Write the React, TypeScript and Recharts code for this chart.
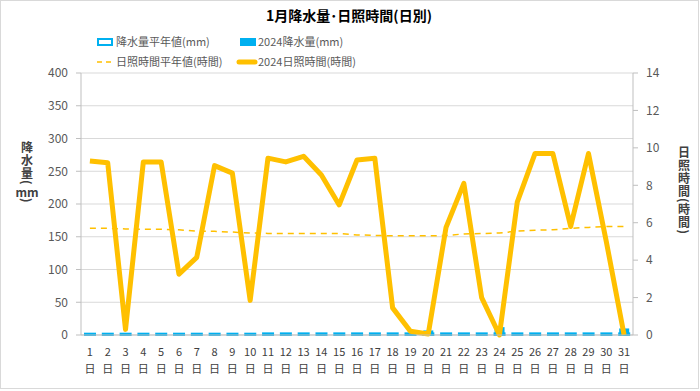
import React from 'react';
import { ComposedChart, Bar, Line, XAxis, YAxis, CartesianGrid } from 'recharts';

const days = ['1','2','3','4','5','6','7','8','9','10','11','12','13','14','15','16','17','18','19','20','21','22','23','24','25','26','27','28','29','30','31'];
const precipNormal = [2,2,2,2,2,2,2,2,2,2,2.5,2.5,2.5,2.5,2.5,2.5,2.5,2.5,2.5,2.5,2.5,2.5,2.5,2.5,2.5,2.5,2.5,2.5,2.5,2.5,2.5];
const precip2024 = [0,0,0,0,0,0,0,0,0,0,0,0,0,0,0,0,0,0,0,7,3,1,0,12,2,0,0,0,0,0,10];
const sunNormal = [5.7,5.7,5.67,5.65,5.65,5.62,5.55,5.54,5.5,5.45,5.43,5.43,5.43,5.43,5.42,5.35,5.32,5.3,5.3,5.3,5.32,5.4,5.42,5.45,5.55,5.6,5.62,5.7,5.75,5.8,5.8];
const sun2024 = [9.3,9.2,0.3,9.25,9.25,3.25,4.15,9.05,8.65,1.85,9.45,9.25,9.55,8.55,6.95,9.35,9.45,1.45,0.2,0.05,5.75,8.1,2.0,0.0,7.1,9.7,9.7,5.8,9.7,5.0,0.0];
const leftTicks = [0,50,100,150,200,250,300,350,400];
const rightTicks = [0,2,4,6,8,10,12,14];

const data = days.map((d, i) => ({
  day: d,
  pn: precipNormal[i],
  p24: precip2024[i],
  sn: sunNormal[i],
  s24: sun2024[i],
}));

const FONT = '"Noto Sans CJK JP", "Noto Sans", sans-serif';
const BLUE = '#00B0F0';
const GOLD = '#FFC000';

const DayTick = (props: any) => {
  const { x, y, payload } = props;
  return (
    <g>
      <text x={x} y={y + 21} textAnchor="middle" fontSize={11} fill="#404040" fontFamily={FONT}>{payload.value}</text>
      <text x={x} y={y + 38} textAnchor="middle" fontSize={11} fill="#404040" fontFamily={FONT}>日</text>
    </g>
  );
};

const vStyle: any = { writingMode: 'vertical-rl', textOrientation: 'mixed' };

export default function App() {
  return (
    <div style={{ position: 'absolute', left: 0, top: 0, width: 700, height: 391, background: '#fff', fontFamily: FONT }}>
      <ComposedChart width={700} height={391} data={data} margin={{ top: 73, right: 0, bottom: 0, left: 0 }} barGap={0}>
        <CartesianGrid yAxisId="left" vertical={false} stroke="#d9d9d9" strokeWidth={1} />
        <XAxis dataKey="day" xAxisId="a" height={56} interval={0} tickLine={false} tickSize={0} tickMargin={0}
          axisLine={{ stroke: '#bfbfbf' }} tick={<DayTick />} />
        <XAxis dataKey="day" xAxisId="b" hide />
        <YAxis yAxisId="left" orientation="left" width={81} domain={[0, 400]} ticks={leftTicks} interval={0}
          axisLine={{ stroke: '#bfbfbf' }} tickLine={{ stroke: '#bfbfbf' }} tickSize={5} tickMargin={8}
          tick={{ fontSize: 12, fill: '#595959', fontFamily: FONT }} />
        <YAxis yAxisId="right" orientation="right" width={67} domain={[0, 14]} ticks={rightTicks} interval={0}
          axisLine={{ stroke: '#bfbfbf' }} tickLine={{ stroke: '#bfbfbf' }} tickSize={5} tickMargin={8}
          tick={{ fontSize: 12, fill: '#595959', fontFamily: FONT, textAnchor: 'start' }} />
        <Bar xAxisId="a" yAxisId="left" dataKey="pn" barSize={10} fill="#ffffff" stroke={BLUE} strokeWidth={2} isAnimationActive={false} />
        <Bar xAxisId="b" yAxisId="left" dataKey="p24" barSize={10} fill={BLUE} isAnimationActive={false} />
        <Line xAxisId="a" yAxisId="right" dataKey="sn" stroke={GOLD} strokeWidth={1.5} strokeDasharray="6 5" dot={false} isAnimationActive={false} />
        <Line xAxisId="a" yAxisId="right" dataKey="s24" stroke={GOLD} strokeWidth={5} dot={false} strokeLinejoin="round" isAnimationActive={false} />
      </ComposedChart>
      <svg width={700} height={391} style={{ position: 'absolute', left: 0, top: 0, pointerEvents: 'none' }}>
        <rect x={0.5} y={0.5} width={698} height={388} fill="none" stroke="#d9d9d9" />
        <text x={349} y={21} textAnchor="middle" fontSize={14} fontWeight="bold" fill="#000" fontFamily={FONT}>1月降水量･日照時間(日別)</text>
        <rect x={98} y={39} width={14} height={6} fill="#fff" stroke={BLUE} strokeWidth={2} />
        <text x={116} y={46} fontSize={11} fill="#595959" fontFamily={FONT}>降水量平年値(mm)</text>
        <rect x={240} y={38} width={16} height={8} fill={BLUE} />
        <text x={258} y={46} fontSize={11} fill="#595959" fontFamily={FONT}>2024降水量(mm)</text>
        <line x1={97} y1={62} x2={115} y2={62} stroke={GOLD} strokeWidth={1.5} strokeDasharray="5 4" />
        <text x={116} y={66} fontSize={11} fill="#595959" fontFamily={FONT}>日照時間平年値(時間)</text>
        <line x1={239} y1={62} x2={255} y2={62} stroke={GOLD} strokeWidth={5} strokeLinecap="round" />
        <text x={258} y={66} fontSize={11} fill="#595959" fontFamily={FONT}>2024日照時間(時間)</text>
        <text x={27} y={141} fontSize={12} fontWeight="bold" fill="#404040" fontFamily={FONT} letterSpacing={1} style={vStyle}>降水量(</text>
        <text x={27} y={197} textAnchor="middle" fontSize={12} fontWeight="bold" fill="#404040" fontFamily={FONT}>mm</text>
        <text x={27} y={198} fontSize={12} fontWeight="bold" fill="#404040" fontFamily={FONT} style={vStyle}>)</text>
        <text x={684} y={146} fontSize={12} fontWeight="bold" fill="#404040" fontFamily={FONT} letterSpacing={1} style={vStyle}>日照時間(時間)</text>
      </svg>
    </div>
  );
}
